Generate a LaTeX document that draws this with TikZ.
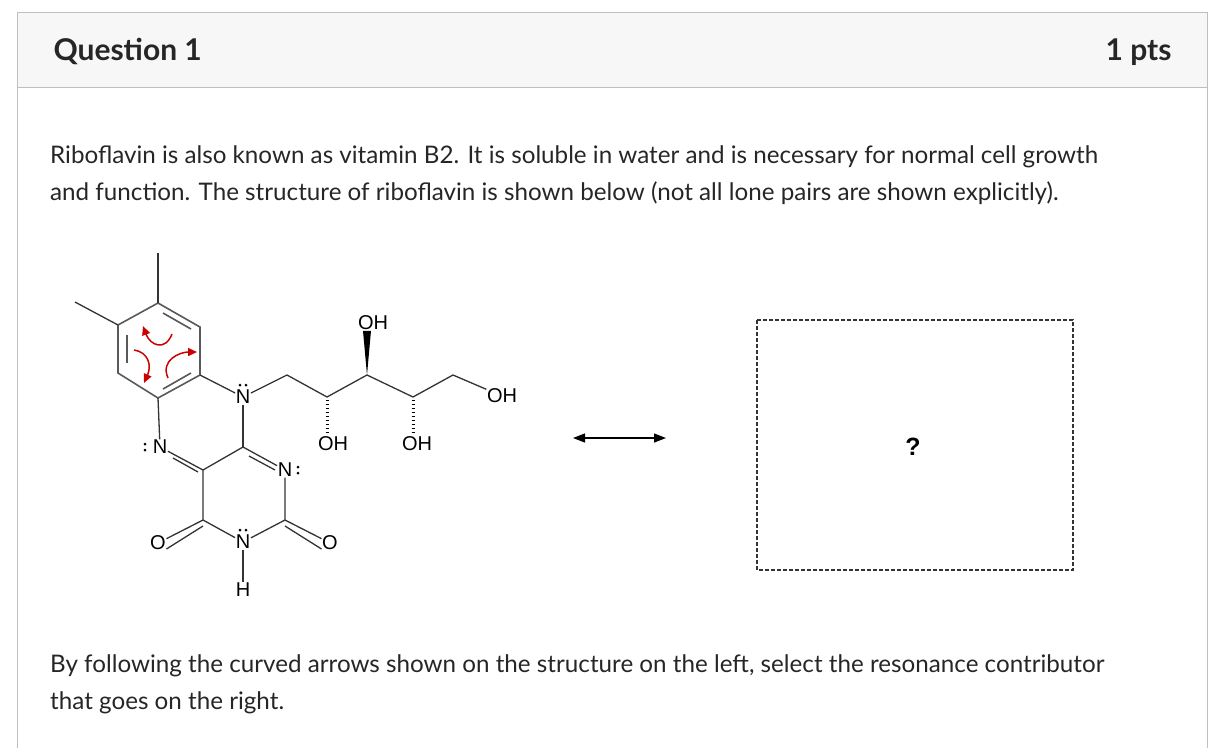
\documentclass[tikz,border=0pt]{standalone}
\usepackage{fontspec}
\setmainfont{Lato}
\newfontfamily\chemf{Liberation Sans}
\usetikzlibrary{arrows.meta,decorations.markings,calc}
\begin{document}
\begin{tikzpicture}[x=1pt,y=-1pt,
  txt/.style={anchor=base west,font=\fontsize{24.2}{26}\selectfont,text=black!85,inner sep=0},
  atom/.style={font=\chemf\fontsize{20}{20}\selectfont,inner sep=0.5pt,fill=white},
  bd/.style={line width=1.3pt,black!80},
  rg/.style={line width=1.6pt,black!65},
  ra/.style={red!80!black,line width=1.5pt,-{Triangle[length=9pt,width=8pt]}},
  hash/.style={decorate,decoration={markings,mark=between positions 0.1 and 1 step 4pt with {\draw[line width=1pt] (0,-1.5pt)--(0,1.5pt);}}}]
\useasboundingbox (0,0) rectangle (1218,748);
\fill[black!3] (17,12) rectangle (1207,87);
\draw[black!25,line width=0.8pt] (17,748) -- (17,12) -- (1207,12) -- (1207,748);
\draw[black!25,line width=0.8pt] (17,87) -- (1207,87);
\node[anchor=base west,font=\fontsize{30}{32}\selectfont\bfseries,text=black!85] (q) at (50,60) {Question 1};
\node[anchor=base east,font=\fontsize{30}{32}\selectfont\bfseries,text=black!85] (p) at (1175,60) {1 pts};
\node[txt] (t1) at (50,163) {Riboflavin is also known as vitamin B2. It is soluble in water and is necessary for normal cell growth};
\node[txt] (t2) at (50,200) {and function. The structure of riboflavin is shown below (not all lone pairs are shown explicitly).};
\node[txt] (t3) at (50,672) {By following the curved arrows shown on the structure on the left, select the resonance contributor};
\node[txt] (t4) at (50,709) {that goes on the right.};
% ring
\coordinate (r1) at (158,303); \coordinate (r2) at (200,327); \coordinate (r3) at (200,375);
\coordinate (r4) at (158,398); \coordinate (r5) at (118,373); \coordinate (r6) at (118,325);
\draw[rg] (r1)--(r2)--(r3)--(r4)--(r5)--(r6)--cycle;
\draw[rg] (163,313) -- (191,329);
\draw[rg] (127,335) -- (127,363);
\draw[rg] (191,373) -- (163,389);
\draw[bd] (r1) -- (158,253);
\draw[bd] (r6) -- (75,302);
% atoms
\node[atom] (n10) at (243,397) {N};
\node[atom] (n5) at (160,447) {N};
\node[atom] (n1) at (285,470) {N};
\node[atom] (n3) at (243,542) {N};
\node[atom] (h3) at (243,590) {H};
\node[atom] (o4) at (158,543) {O};
\node[atom] (o2) at (330,543) {O};
\coordinate (c4a) at (203,470); \coordinate (c10a) at (243,447);
\coordinate (c4) at (203,520); \coordinate (c2) at (285,520);
\draw[bd] (r3) -- (n10); \draw[bd] (r4) -- (n5);
\draw[bd] (n10) -- (c10a); \draw[bd] (n5) -- (c4a);
\draw[bd] (173,458) -- (198,472);
\draw[bd] (c4a) -- (c10a); \draw[bd] (c10a) -- (n1);
\draw[bd] (249,456) -- (275,470);
\draw[bd] (n1) -- (c2) -- (n3) -- (c4) -- (c4a);
\draw[bd] (n3) -- (h3);
\draw[bd] (c4) -- (o4); \draw[bd] ([yshift=-6]c4) -- ([yshift=-6]o4.east);
\draw[bd] (c2) -- (o2); \draw[bd] ([yshift=-6]c2) -- ([yshift=-6]o2.west);
% lone pairs
\foreach \p/\dx/\dy in {n10/-3/-12,n10/3/-12,n3/-3/-12,n3/3/-12,n5/-15/-3,n5/-15/3,n1/13/-3,n1/13/3}
  \fill[black] ($(\p)+(\dx,\dy)$) circle (1.5pt);
% chain
\coordinate (a1) at (287,375); \coordinate (a2) at (327,397); \coordinate (a3) at (367,375);
\coordinate (a4) at (413,397); \coordinate (a5) at (453,375);
\node[atom] (oh1) at (333,444) {OH};
\node[atom] (oh2) at (373,323) {OH};
\node[atom] (oh3) at (417,444) {OH};
\node[atom] (oh4) at (502,396) {OH};
\draw[bd] (n10) -- (a1) -- (a2) -- (a3) -- (a4) -- (a5) -- (oh4);
\path[hash] (a2) -- (oh1.north -| a2);
\path[hash] (a4) -- (oh3.north -| a4);
\fill[black] (a3) -- ([xshift=-4]oh2.south -| a3) -- ([xshift=4]oh2.south -| a3) -- cycle;
% red curved arrows
\draw[ra] (172,334) .. controls (165,352) and (150,345) .. (143,326);
\draw[ra] (134,350) .. controls (148,352) and (152,365) .. (144,383);
\draw[ra] (168,378) .. controls (160,360) and (180,352) .. (197,352);
% resonance arrow and box
\coordinate (ra1) at (573,438); \coordinate (ra2) at (666,438);
\draw[line width=1.3pt,{Triangle[length=12pt,width=9pt]}-{Triangle[length=12pt,width=9pt]}] (ra1) -- (ra2);
\draw[dash pattern=on 4pt off 2pt,line width=1.2pt,black!80] (757,320) rectangle (1073,570);
\node[font=\chemf\fontsize{25}{25}\selectfont\bfseries] (qm) at (913,447) {?};
\end{tikzpicture}
\end{document}
